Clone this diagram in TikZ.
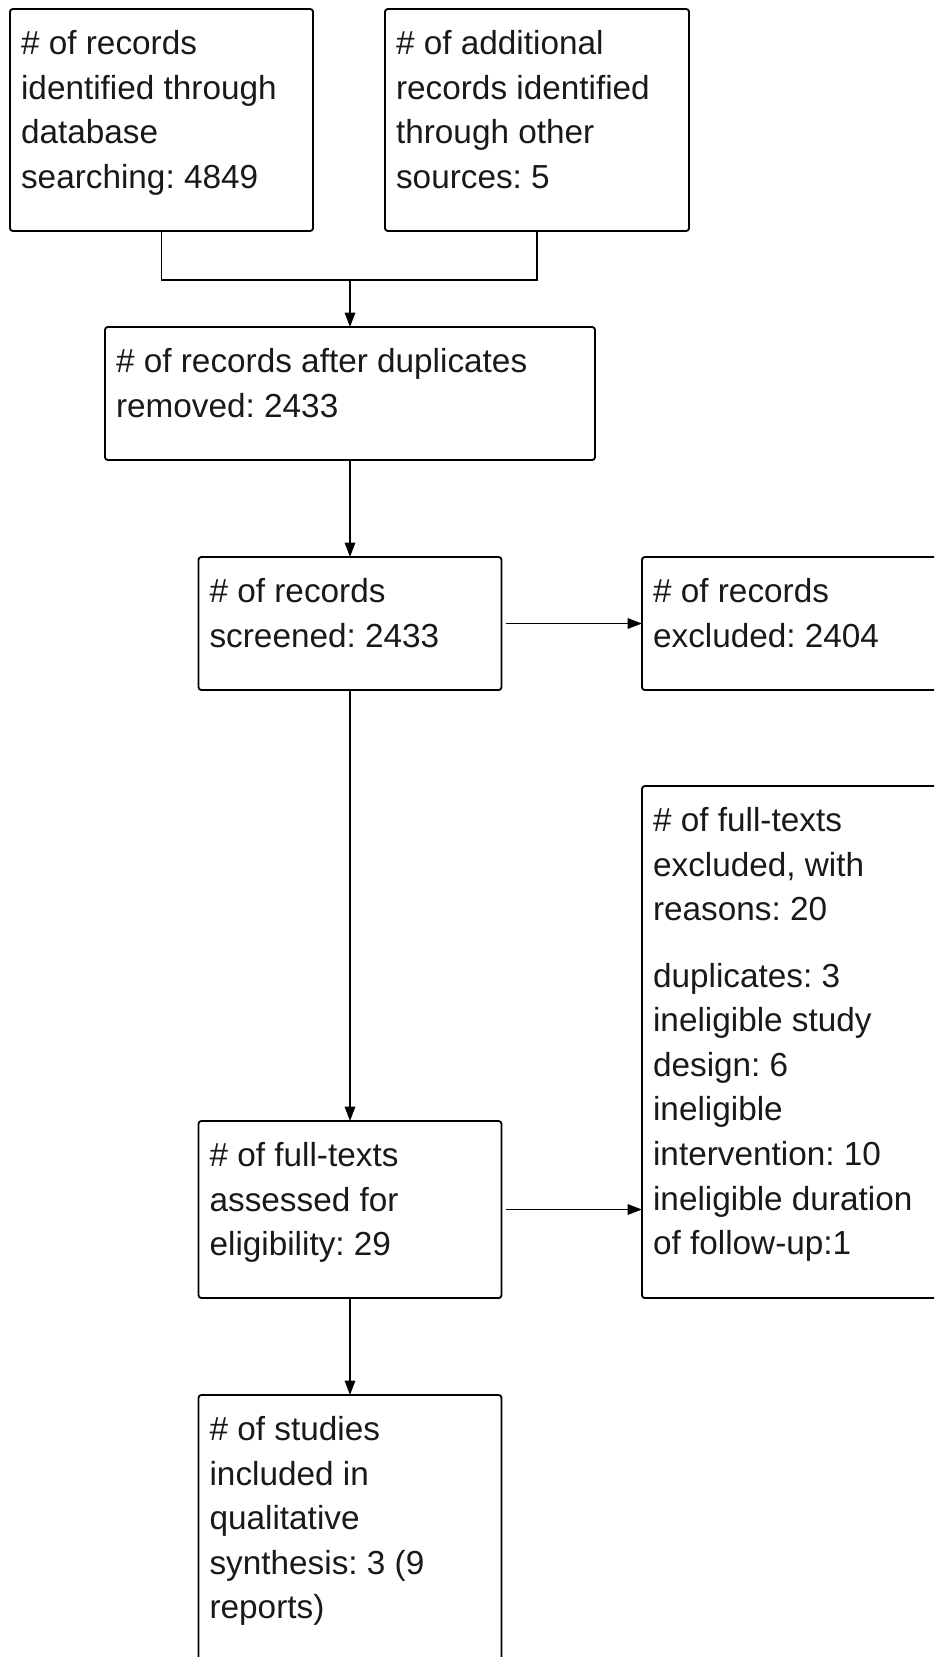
\documentclass[tikz,border=0pt]{standalone}
\usepackage{fontspec}
\setmainfont{Liberation Sans}
\usetikzlibrary{arrows.meta}
\frenchspacing

\begin{document}
\begin{tikzpicture}[
  frame/.style={shape=rectangle,draw=black,line width=1.3pt,rounded corners=2pt,outer sep=0pt},
  txt/.style={align=left,inner sep=0pt,anchor=north west,text=black!90,font=\fontsize{23.7pt}{31.7pt}\selectfont},
  link/.style={draw=black,line width=1.4pt},
  arr/.style={link,-{Triangle[length=0.36cm,width=0.26cm]}}]
\useasboundingbox (0,0) rectangle (23.35,-41.425);
\clip (0,0) rectangle (23.35,-41.425);
\node[frame,minimum width=7.575cm,minimum height=5.55cm] (0) at (4.0375,-3.0) {};
\node[frame,minimum width=7.6cm,minimum height=5.55cm] (1) at (13.425,-3.0) {};
\node[frame,minimum width=12.25cm,minimum height=3.325cm] (2) at (8.75,-9.8375) {};
\node[frame,minimum width=7.575cm,minimum height=3.325cm] (3) at (8.75,-15.5875) {};
\node[frame,minimum width=8.45cm,minimum height=3.325cm] (4) at (20.275,-15.5875) {};
\node[frame,minimum width=8.45cm,minimum height=12.8cm] (5) at (20.275,-26.05) {};
\node[frame,minimum width=7.575cm,minimum height=4.425cm] (6) at (8.75,-30.2375) {};
\node[frame,minimum width=7.575cm,minimum height=8.125cm] (7) at (8.75,-38.9375) {};

\node[txt] (t0) at ([shift={(0.27,-0.53)}]0.north west) {\# of records\\identified through\\database\\searching: 4849};
\node[txt] (t1) at ([shift={(0.27,-0.53)}]1.north west) {\# of additional\\records identified\\through other\\sources: 5};
\node[txt] (t2) at ([shift={(0.27,-0.53)}]2.north west) {\# of records after duplicates\\removed: 2433};
\node[txt] (t3) at ([shift={(0.27,-0.53)}]3.north west) {\# of records\\screened: 2433};
\node[txt] (t4) at ([shift={(0.27,-0.53)}]4.north west) {\# of records\\excluded: 2404};
\node[txt] (t5) at ([shift={(0.27,-0.53)}]5.north west) {\# of full-texts\\excluded, with\\reasons: 20\\[15.6pt]duplicates: 3\\ineligible study\\design: 6\\ineligible\\intervention: 10\\ineligible duration\\of follow-up:1};
\node[txt] (t6) at ([shift={(0.27,-0.53)}]6.north west) {\# of full-texts\\assessed for\\eligibility: 29};
\node[txt] (t7) at ([shift={(0.27,-0.53)}]7.north west) {\# of studies\\included in\\qualitative\\synthesis: 3 (9\\reports)};

\coordinate (j) at (8.75,-7.0);
\draw[link] (0.south) |- (j) -| (1.south);
\draw[arr] (j) -- (2.north);
\draw[arr] (2.south) -- (3.north);
\draw[arr,shorten <=0.11cm] (3.east) -- (4.west);
\draw[arr] (3.south) -- (6.north);
\draw[arr,shorten <=0.11cm] (6.east) -- (6.east -| 5.west);
\draw[arr] (6.south) -- (7.north);

\end{tikzpicture}
\end{document}
